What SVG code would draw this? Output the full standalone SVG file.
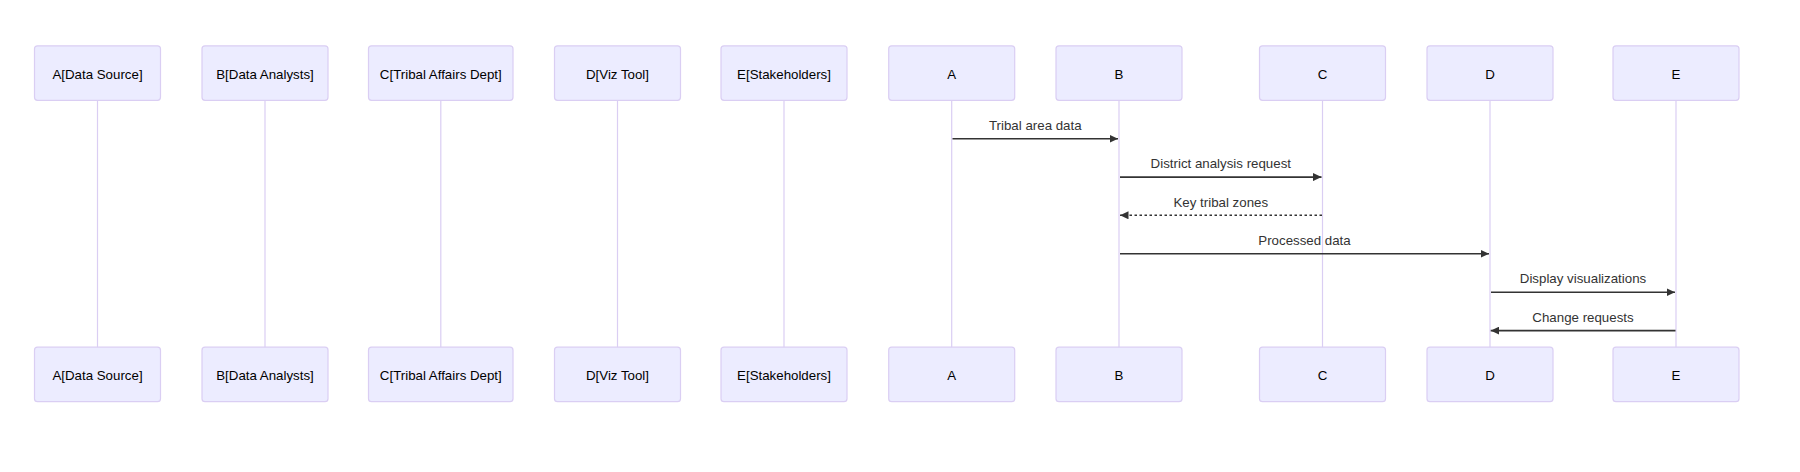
<svg xmlns="http://www.w3.org/2000/svg" width="1800" height="472" viewBox="0 0 1800 472">
<style>
.actor{fill:#ECECFF;stroke:#DACEF3;stroke-width:1.2}
.atext{font-family:"Liberation Sans",Arial,sans-serif;font-size:13.3px;fill:#000;text-anchor:middle}
.life{stroke:#DACEF3;stroke-width:1.2}
.msg{stroke:#333;stroke-width:1.6;fill:none}
.dot{stroke-dasharray:2.5,2.5}
.mtext{font-family:"Liberation Sans",Arial,sans-serif;font-size:13.3px;fill:#333;text-anchor:middle}
</style>
<defs>
<marker id="ah" viewBox="0 0 10 10" refX="10" refY="5" markerUnits="userSpaceOnUse" markerWidth="8.5" markerHeight="8" orient="auto" preserveAspectRatio="none">
<path d="M0,0 L10,5 L0,10 z" fill="#333"/>
</marker>
</defs>
<rect width="1800" height="472" fill="#fff"/>
<g id="lifelines">
<line class="life" x1="97.5" y1="100.3" x2="97.5" y2="347.2"/>
<line class="life" x1="265" y1="100.3" x2="265" y2="347.2"/>
<line class="life" x1="440.8" y1="100.3" x2="440.8" y2="347.2"/>
<line class="life" x1="617.5" y1="100.3" x2="617.5" y2="347.2"/>
<line class="life" x1="784" y1="100.3" x2="784" y2="347.2"/>
<line class="life" x1="951.7" y1="100.3" x2="951.7" y2="347.2"/>
<line class="life" x1="1119" y1="100.3" x2="1119" y2="347.2"/>
<line class="life" x1="1322.5" y1="100.3" x2="1322.5" y2="347.2"/>
<line class="life" x1="1490" y1="100.3" x2="1490" y2="347.2"/>
<line class="life" x1="1676" y1="100.3" x2="1676" y2="347.2"/>
</g>
<g id="node-A-DataSource">
<rect class="actor" x="34.5" y="45.8" width="126" height="54.5" rx="3"/>
<text class="atext" x="97.5" y="78.6">A[Data Source]</text>
<rect class="actor" x="34.5" y="347.2" width="126" height="54.5" rx="3"/>
<text class="atext" x="97.5" y="380">A[Data Source]</text>
</g>
<g id="node-B-DataAnalysts">
<rect class="actor" x="202" y="45.8" width="126" height="54.5" rx="3"/>
<text class="atext" x="265" y="78.6">B[Data Analysts]</text>
<rect class="actor" x="202" y="347.2" width="126" height="54.5" rx="3"/>
<text class="atext" x="265" y="380">B[Data Analysts]</text>
</g>
<g id="node-C-TribalAffairsDept">
<rect class="actor" x="368.5" y="45.8" width="144.5" height="54.5" rx="3"/>
<text class="atext" x="440.8" y="78.6">C[Tribal Affairs Dept]</text>
<rect class="actor" x="368.5" y="347.2" width="144.5" height="54.5" rx="3"/>
<text class="atext" x="440.8" y="380">C[Tribal Affairs Dept]</text>
</g>
<g id="node-D-VizTool">
<rect class="actor" x="554.5" y="45.8" width="126" height="54.5" rx="3"/>
<text class="atext" x="617.5" y="78.6">D[Viz Tool]</text>
<rect class="actor" x="554.5" y="347.2" width="126" height="54.5" rx="3"/>
<text class="atext" x="617.5" y="380">D[Viz Tool]</text>
</g>
<g id="node-E-Stakeholders">
<rect class="actor" x="721" y="45.8" width="126" height="54.5" rx="3"/>
<text class="atext" x="784" y="78.6">E[Stakeholders]</text>
<rect class="actor" x="721" y="347.2" width="126" height="54.5" rx="3"/>
<text class="atext" x="784" y="380">E[Stakeholders]</text>
</g>
<g id="node-A">
<rect class="actor" x="888.7" y="45.8" width="126" height="54.5" rx="3"/>
<text class="atext" x="951.7" y="78.6">A</text>
<rect class="actor" x="888.7" y="347.2" width="126" height="54.5" rx="3"/>
<text class="atext" x="951.7" y="380">A</text>
</g>
<g id="node-B">
<rect class="actor" x="1056" y="45.8" width="126" height="54.5" rx="3"/>
<text class="atext" x="1119" y="78.6">B</text>
<rect class="actor" x="1056" y="347.2" width="126" height="54.5" rx="3"/>
<text class="atext" x="1119" y="380">B</text>
</g>
<g id="node-C">
<rect class="actor" x="1259.5" y="45.8" width="126" height="54.5" rx="3"/>
<text class="atext" x="1322.5" y="78.6">C</text>
<rect class="actor" x="1259.5" y="347.2" width="126" height="54.5" rx="3"/>
<text class="atext" x="1322.5" y="380">C</text>
</g>
<g id="node-D">
<rect class="actor" x="1427" y="45.8" width="126" height="54.5" rx="3"/>
<text class="atext" x="1490" y="78.6">D</text>
<rect class="actor" x="1427" y="347.2" width="126" height="54.5" rx="3"/>
<text class="atext" x="1490" y="380">D</text>
</g>
<g id="node-E">
<rect class="actor" x="1613" y="45.8" width="126" height="54.5" rx="3"/>
<text class="atext" x="1676" y="78.6">E</text>
<rect class="actor" x="1613" y="347.2" width="126" height="54.5" rx="3"/>
<text class="atext" x="1676" y="380">E</text>
</g>
<g id="connectors">
<line class="msg" x1="952.5" y1="138.8" x2="1118" y2="138.8" marker-end="url(#ah)"/>
<text class="mtext" x="1035.3" y="130">Tribal area data</text>
<line class="msg" x1="1120" y1="177.1" x2="1321.5" y2="177.1" marker-end="url(#ah)"/>
<text class="mtext" x="1220.8" y="168.3">District analysis request</text>
<line class="msg dot" x1="1322" y1="215.3" x2="1120" y2="215.3" marker-end="url(#ah)"/>
<text class="mtext" x="1220.8" y="206.5">Key tribal zones</text>
<line class="msg" x1="1120" y1="253.8" x2="1489" y2="253.8" marker-end="url(#ah)"/>
<text class="mtext" x="1304.5" y="245">Processed data</text>
<line class="msg" x1="1491" y1="292.2" x2="1675" y2="292.2" marker-end="url(#ah)"/>
<text class="mtext" x="1583" y="283.4">Display visualizations</text>
<line class="msg" x1="1675.5" y1="330.6" x2="1490.7" y2="330.6" marker-end="url(#ah)"/>
<text class="mtext" x="1583" y="321.8">Change requests</text>
</g>
</svg>
